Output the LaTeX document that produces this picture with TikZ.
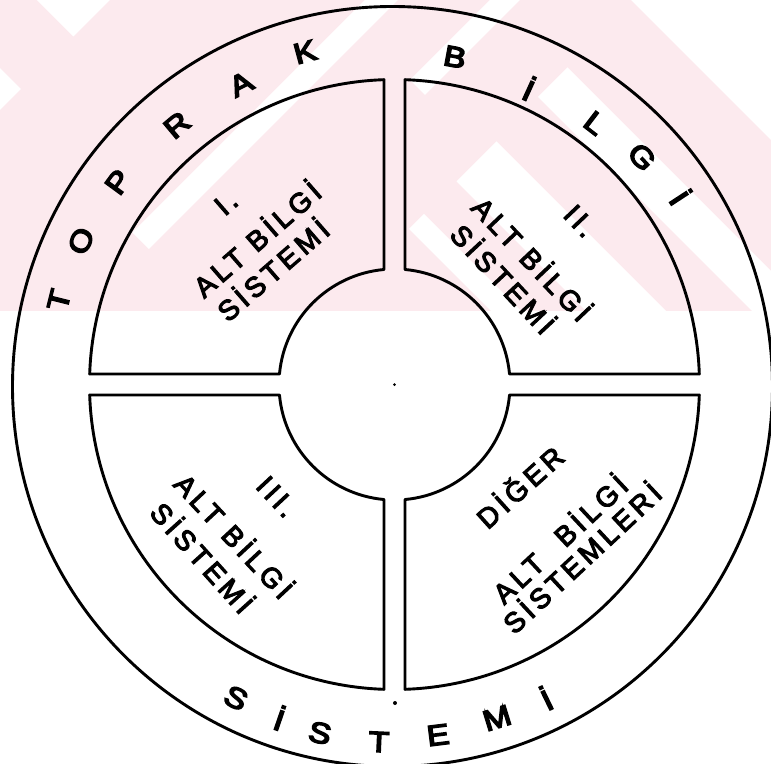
\documentclass[tikz,border=0pt]{standalone}
\usepackage{fontspec}
\setmainfont{Liberation Sans}
\newfontfamily\qfont[LetterSpace=15,FakeBold=4]{Liberation Sans}
\newfontfamily\rfont[FakeBold=5]{Liberation Sans}
\definecolor{wm}{RGB}{252,234,238}
\newcommand\wl[1]{\scalebox{1.15}[1]{#1}}
\tikzset{
 frame/.style={line width=2.9pt, line join=round},
 ringlet/.style={font=\rfont\fontsize{29}{29}\selectfont, inner sep=0pt},
 qtext/.style={font=\qfont\fontsize{28}{28}\selectfont, inner sep=0pt},
 wband/.style={fill=white},
}
\begin{document}
\begin{tikzpicture}[x=1pt,y=1pt]
\useasboundingbox (-394.5,-378.5) rectangle (376.5,384.5);
% faint watermark (image coordinates)
\begin{scope}[shift={(-394.5,384.5)},yscale=-1]
 \clip (0,0) rectangle (771,311);
 \fill[wm] (0,0) rectangle (771,311);
 \fill[wband] (37,0) -- (110,0) -- (73.5,36.5) -- cycle;
 \fill[wband] (0,68) -- (21,89) -- (0,110) -- cycle;
 \fill[wband] (132.5,232.5) -- (365,0) -- (398,0) -- (149,249) -- cycle;
 \fill[wband] (410,80) -- (490,0) -- (520,0) -- (425,95) -- cycle;
 \fill[wband] (409,229) -- (424,214) -- (521,311) -- (491,311) -- cycle;
 \fill[wband] (456.5,181.5) -- (496.5,141.5) -- (666,311) -- (586,311) -- cycle;
 \fill[wband] (538,97) -- (567.5,67.5) -- (811,311) -- (752,311) -- cycle;
 \fill[wband] (631,0) -- (771,0) -- (771,140) -- cycle;
\end{scope}
% outer circle
\draw[frame] (-2,-2) circle[radius=380];
% quadrants
\draw[frame] (91.97:305) -- (95.22:115.5) arc[start angle=95.22, end angle=174.78, radius=115.5]
  -- (178.03:305) arc[start angle=178.03, end angle=91.97, radius=305] -- cycle;
\draw[frame] (88.03:305) -- (84.78:115.5) arc[start angle=84.78, end angle=5.22, radius=115.5]
  -- (1.97:305) arc[start angle=1.97, end angle=88.03, radius=305] -- cycle;
\draw[frame] (181.97:305) -- (185.22:115.5) arc[start angle=185.22, end angle=264.78, radius=115.5]
  -- (268.03:305) arc[start angle=268.03, end angle=181.97, radius=305] -- cycle;
\draw[frame] (271.97:305) -- (275.22:115.5) arc[start angle=275.22, end angle=354.78, radius=115.5]
  -- (358.03:305) arc[start angle=358.03, end angle=271.97, radius=305] -- cycle;
% small marks
\fill (0,0) circle[radius=1.5];
\fill (0.5,-318.5) circle[radius=2];
% ring text: TOPRAK BILGI
\node[ringlet, rotate=75.9] (r1) at (-335.5,84.5) {\wl{T}};
\node[ringlet, rotate=65.4] (r2) at (-313.5,143.5) {\wl{O}};
\node[ringlet, rotate=53.8] (r3) at (-276.5,202.5) {\wl{P}};
\node[ringlet, rotate=40.0] (r4) at (-217.5,259.5) {\wl{R}};
\node[ringlet, rotate=27.1] (r5) at (-153.5,300.5) {\wl{A}};
\node[ringlet, rotate=15.1] (r6) at (-89.5,332.5) {\wl{K}};
\node[ringlet, rotate=-10.5] (r7) at (60.5,327.5) {\wl{B}};
\node[ringlet, rotate=-24.5] (r8) at (135,296) {\wl{İ}};
\node[ringlet, rotate=-37.5] (r9) at (200.5,261.5) {\wl{L}};
\node[ringlet, rotate=-47.4] (r10) at (247.5,227.5) {\wl{G}};
\node[ringlet, rotate=-56.8] (r11) at (286.5,187.5) {\wl{İ}};
% ring text: SISTEMI
\node[ringlet, rotate=-26.8] (s1) at (-158.5,-313.5) {\wl{S}};
\node[ringlet, rotate=-18.9] (s2) at (-114.5,-333.5) {\wl{İ}};
\node[ringlet, rotate=-12.1] (s3) at (-74.5,-348.5) {\wl{S}};
\node[ringlet, rotate=-2.5] (s4) at (-15.5,-357.5) {\wl{T}};
\node[ringlet, rotate=7.1] (s5) at (43.5,-350.5) {\wl{E}};
\node[ringlet, rotate=17.1] (s6) at (102.5,-333.5) {\wl{M}};
\node[ringlet, rotate=25.8] (s7) at (151.5,-313.5) {\wl{İ}};
% quadrant I
\node[qtext, rotate=41] (q1a) at (-168.5,181.5) {I.};
\node[qtext, rotate=41] (q1b) at (-138.5,146.5) {ALT BİLGİ};
\node[qtext, rotate=41] (q1c) at (-122.5,115.5) {SİSTEMİ};
% quadrant II
\node[qtext, rotate=-46.5] (q2a) at (185.5,163.5) {II.};
\node[qtext, rotate=-46.5] (q2b) at (138.5,126.5) {ALT BİLGİ};
\node[qtext, rotate=-47] (q2c) at (109.5,106.5) {SİSTEMİ};
% quadrant III
\node[qtext, rotate=-47] (q3a) at (-117.8,-112.2) {III.};
\node[qtext, rotate=-47] (q3b) at (-159.5,-150.5) {ALT BİLGİ};
\node[qtext, rotate=-48] (q3c) at (-191.2,-172.2) {SİSTEMİ};
% quadrant IV
\node[qtext, rotate=42] (q4a) at (124.5,-101.5) {DİĞER};
\node[qtext, rotate=43] (q4b) at (164.5,-153.5) {ALT\hspace{26pt}BİLGİ};
\node[qtext, rotate=43] (q4c) at (186.5,-172.5) {SİSTEMLERİ};
\end{tikzpicture}
\end{document}
